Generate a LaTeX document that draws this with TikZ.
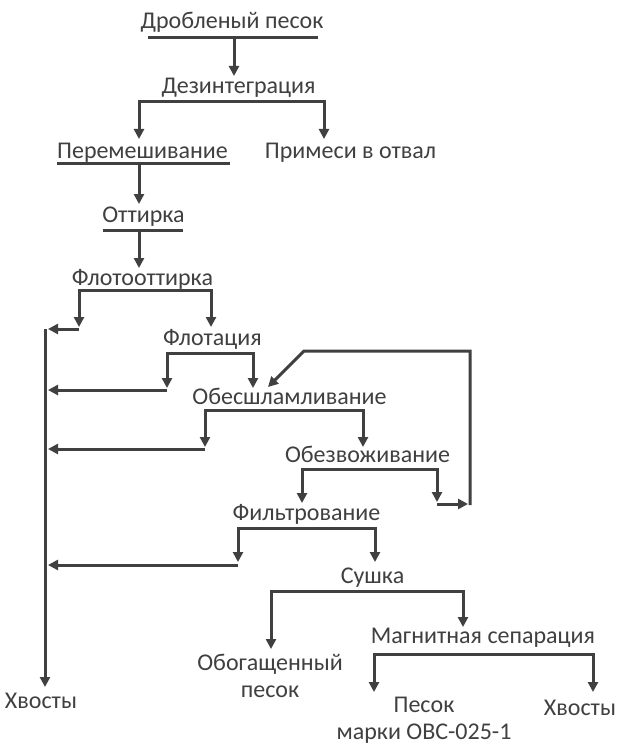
\documentclass[tikz,border=0pt]{standalone}
\usepackage{fontspec}
\setmainfont{Carlito}
\usetikzlibrary{arrows.meta}
\definecolor{ink}{HTML}{404040}
\newcommand\lblfont{\fontsize{24}{26.5}\selectfont}

\begin{document}
\begin{tikzpicture}[x=1pt,y=-1pt,
  lbl/.style={font=\lblfont, text=ink, inner sep=0pt, align=center, anchor=base},
  ln/.style={draw=ink, line width=3pt, line join=miter},
  arr/.style={ln, -{Triangle[length=10pt,width=10pt]}},
  arrs/.style={ln, {Triangle[length=10pt,width=10pt]}-{Triangle[length=10pt,width=10pt]}}]
\useasboundingbox[fill=white] (0,0) rectangle (622,746);

% process stages (anchored on the baseline of the last line)
\node[lbl] (dp)   at (232,29)  {Дробленый песок};
\node[lbl] (dez)  at (238.5,94)  {Дезинтеграция};
\node[lbl] (per)  at (142.5,159) {Перемешивание};
\node[lbl] (prim) at (350.5,159) {Примеси в отвал};
\node[lbl] (ott)  at (143.5,222) {Оттирка};
\node[lbl] (flo)  at (142.5,285) {Флотооттирка};
\node[lbl] (flt)  at (212.5,345) {Флотация};
\node[lbl] (obs)  at (289.5,404) {Обесшламливание};
\node[lbl] (obz)  at (367.5,462) {Обезвоживание};
\node[lbl] (fil)  at (306.5,520) {Фильтрование};
\node[lbl] (sus)  at (372.5,583) {Сушка};
\node[lbl] (mag)  at (483,643) {Магнитная сепарация};
\node[lbl] (obog) at (270,697) {Обогащенный\\песок};
\node[lbl] (pes)  at (424,739) {Песок\\марки ОВС-025-1};
\node[lbl] (hv2)  at (580,715) {Хвосты};
\node[lbl] (hv1)  at (41,708)  {Хвосты};

% junction points
\coordinate (dpL) at (148,38);  \coordinate (dpR) at (318,38);
\coordinate (dpO) at (234,38);  \coordinate (dezI) at (234,76);
\coordinate (perI) at (139,139); \coordinate (dezB) at (139,102);
\coordinate (dezC) at (324,102); \coordinate (primI) at (324,139);
\coordinate (perL) at (57,164);  \coordinate (perR) at (230,164);
\coordinate (perO) at (139,164); \coordinate (ottI) at (139,204);
\coordinate (ottL) at (103,230); \coordinate (ottR) at (183,230);
\coordinate (ottO) at (139,230); \coordinate (floI) at (139,268);
\coordinate (floA) at (79,327);  \coordinate (floB) at (79,290);
\coordinate (floC) at (211,290); \coordinate (fltI) at (211,327);
\coordinate (floH) at (79,329);  \coordinate (floT) at (48,329);
\coordinate (fltA) at (167,388); \coordinate (fltB) at (167,353);
\coordinate (fltC) at (253,353); \coordinate (obsI) at (253,388);
\coordinate (fltH) at (167,390); \coordinate (fltT) at (48,390);
\coordinate (obsA) at (205,447); \coordinate (obsB) at (205,410);
\coordinate (obsC) at (363,410); \coordinate (obzI) at (363,447);
\coordinate (obsH) at (205,449); \coordinate (obsT) at (48,449);
\coordinate (filI) at (302,503); \coordinate (obzB) at (302,469);
\coordinate (obzC) at (437,469); \coordinate (obzD) at (437,502);
\coordinate (obzH) at (437,504); \coordinate (retI) at (468,504);
\coordinate (retA) at (470,505); \coordinate (retB) at (470,351);
\coordinate (retC) at (304,351); \coordinate (retT) at (268,387);
\coordinate (filA) at (238,562); \coordinate (filB) at (238,528);
\coordinate (filC) at (375,528); \coordinate (susI) at (375,562);
\coordinate (filH) at (238,565); \coordinate (filT) at (48,565);
\coordinate (obogI) at (271,649); \coordinate (susB) at (271,591);
\coordinate (susC) at (463,591); \coordinate (magI) at (463,627);
\coordinate (pesI) at (374,692); \coordinate (magB) at (374,654);
\coordinate (magC) at (593,654); \coordinate (hv2I) at (593,692);
\coordinate (tailTop) at (45,329); \coordinate (hv1I) at (45,687);

% underlines
\draw[ln] (dpL) -- (dpR);
\draw[ln] (perL) -- (perR);
\draw[ln] (ottL) -- (ottR);

% flow
\draw[arr] (dpO) -- (dezI);
\draw[arrs] (perI) -- (dezB) -- (dezC) -- (primI);
\draw[arr] (perO) -- (ottI);
\draw[arr] (ottO) -- (floI);
\draw[arrs] (floA) -- (floB) -- (floC) -- (fltI);
\draw[arr] (floH) -- (floT);
\draw[arrs] (fltA) -- (fltB) -- (fltC) -- (obsI);
\draw[arr] (fltH) -- (fltT);
\draw[arrs] (obsA) -- (obsB) -- (obsC) -- (obzI);
\draw[arr] (obsH) -- (obsT);
\draw[arrs] (filI) -- (obzB) -- (obzC) -- (obzD);
\draw[arr] (obzH) -- (retI);
\draw[arr] (retA) -- (retB) -- (retC) -- (retT);
\draw[arrs] (filA) -- (filB) -- (filC) -- (susI);
\draw[arr] (filH) -- (filT);
\draw[arrs] (obogI) -- (susB) -- (susC) -- (magI);
\draw[arrs] (pesI) -- (magB) -- (magC) -- (hv2I);

% tailings collector
\draw[arr] (tailTop) -- (hv1I);
\end{tikzpicture}
\end{document}
